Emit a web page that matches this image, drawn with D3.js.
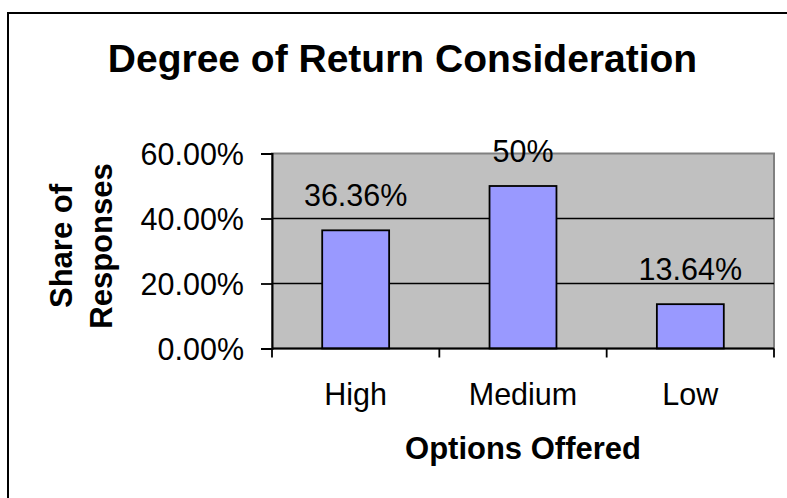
<!DOCTYPE html>
<html>
<head>
<meta charset="utf-8">
<script src="https://cdn.jsdelivr.net/npm/d3@7"></script>
<style>
  body { margin: 0; background: #fff; }
  text { font-family: "Liberation Sans", Arial, sans-serif; fill: #000; }
</style>
</head>
<body>
<div id="chart"></div>
<script>
var categories = ['High', 'Medium', 'Low'];
var shares = [0.3636, 0.5, 0.1364];
var yTicks = [0, 0.2, 0.4, 0.6];

var width = 787, height = 498;
var plotLeft = 272, plotRight = 774, plotTop = 153.5, plotBottom = 348.5;

var svg = d3.select('#chart')
    .append('svg')
    .attr('width', width)
    .attr('height', height);

// outer chart frame (cropped on right and bottom)
svg.append('rect')
    .attr('x', 8).attr('y', 13)
    .attr('width', 900).attr('height', 700)
    .attr('fill', '#fff')
    .attr('stroke', '#000')
    .attr('stroke-width', 2);

var x = d3.scaleBand()
    .domain(categories)
    .range([plotLeft, plotRight])
    .paddingInner(0.6)
    .paddingOuter(0.3);

var y = d3.scaleLinear()
    .domain([0, 0.6])
    .range([plotBottom, plotTop]);

// plot area
svg.append('rect')
    .attr('x', plotLeft).attr('y', plotTop)
    .attr('width', plotRight - plotLeft).attr('height', plotBottom - plotTop)
    .attr('fill', '#c0c0c0')
    .attr('stroke', '#808080')
    .attr('stroke-width', 2);

// gridlines
svg.selectAll('.grid')
    .data(yTicks.filter(function(d) { return d > 0 && d < 0.6; }))
    .enter()
    .append('line')
    .attr('class', 'grid')
    .attr('x1', plotLeft).attr('x2', plotRight)
    .attr('y1', function(d) { return y(d); })
    .attr('y2', function(d) { return y(d); })
    .attr('stroke', '#000')
    .attr('stroke-width', 1.6);

// bars
svg.selectAll('.bar')
    .data(shares)
    .enter()
    .append('rect')
    .attr('class', 'bar')
    .attr('x', function(d, i) { return x(categories[i]); })
    .attr('y', function(d) { return y(d); })
    .attr('width', x.bandwidth())
    .attr('height', function(d) { return y(0) - y(d); })
    .attr('fill', '#9999ff')
    .attr('stroke', '#000')
    .attr('stroke-width', 1.8);

// value labels
var fmtLabel = d3.format('.2~%');
svg.selectAll('.val')
    .data(shares)
    .enter()
    .append('text')
    .attr('class', 'val')
    .attr('x', function(d, i) { return x(categories[i]) + x.bandwidth() / 2; })
    .attr('y', function(d) { return y(d) - 24; })
    .attr('text-anchor', 'middle')
    .style('font-size', '30.5px')
    .text(function(d) { return fmtLabel(d); });

// y axis
var yAxis = d3.axisLeft(y)
    .tickValues(yTicks)
    .tickFormat(d3.format('.2%'))
    .tickSize(11)
    .tickPadding(17);

var gy = svg.append('g')
    .attr('transform', 'translate(' + plotLeft + ',0)')
    .call(yAxis);
gy.select('.domain').attr('stroke', '#000').attr('stroke-width', 2);
gy.selectAll('.tick line').attr('stroke', '#000').attr('stroke-width', 1.8);
gy.selectAll('.tick text')
    .style('font-size', '30.5px')
    .style('font-family', '"Liberation Sans", Arial, sans-serif')
    .attr('dy', '0.36em');

// x axis line and boundary ticks
svg.append('line')
    .attr('x1', plotLeft).attr('x2', plotRight)
    .attr('y1', y(0)).attr('y2', y(0))
    .attr('stroke', '#000').attr('stroke-width', 2);

var bounds = categories.map(function(c) { return x(c) - x.step() * x.paddingOuter(); });
bounds.push(plotRight);
svg.selectAll('.xtick')
    .data(bounds)
    .enter()
    .append('line')
    .attr('class', 'xtick')
    .attr('x1', function(d) { return d; })
    .attr('x2', function(d) { return d; })
    .attr('y1', y(0)).attr('y2', y(0) + 9)
    .attr('stroke', '#000').attr('stroke-width', 1.8);

svg.selectAll('.xlab')
    .data(categories)
    .enter()
    .append('text')
    .attr('class', 'xlab')
    .attr('x', function(d) { return x(d) + x.bandwidth() / 2; })
    .attr('y', 405)
    .attr('text-anchor', 'middle')
    .style('font-size', '30.5px')
    .text(function(d) { return d; });

// titles
svg.append('text')
    .attr('x', 402.5).attr('y', 72)
    .attr('text-anchor', 'middle')
    .style('font-size', '39px')
    .style('font-weight', 'bold')
    .text('Degree of Return Consideration');

svg.append('text')
    .attr('x', (plotLeft + plotRight) / 2).attr('y', 459)
    .attr('text-anchor', 'middle')
    .style('font-size', '31px')
    .style('font-weight', 'bold')
    .text('Options Offered');

var yTitle = svg.append('text')
    .attr('transform', 'translate(0,246) rotate(-90)')
    .attr('text-anchor', 'middle')
    .style('font-size', '31px')
    .style('font-weight', 'bold');
yTitle.append('tspan').attr('x', 0).attr('y', 71.5).text('Share of');
yTitle.append('tspan').attr('x', 0).attr('y', 112).text('Responses');
</script>
</body>
</html>
